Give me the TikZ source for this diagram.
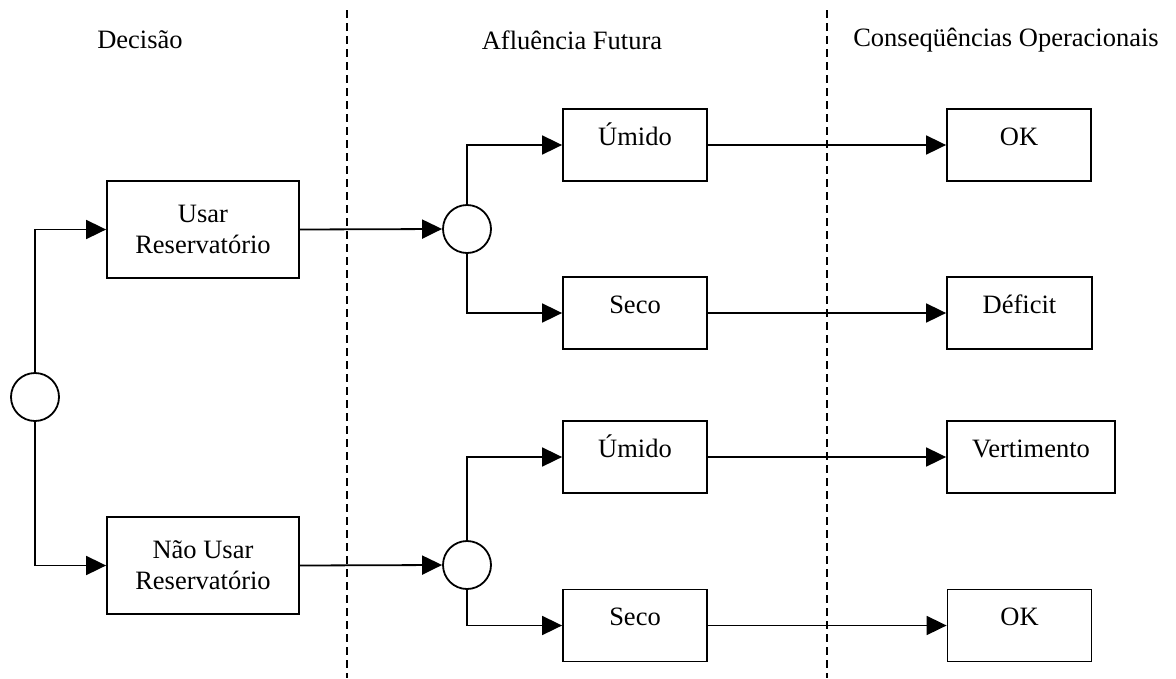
\documentclass[tikz,border=0pt]{standalone}
\usepackage{fontspec}
\setmainfont{Liberation Serif}
\usetikzlibrary{arrows.meta,calc}
\begin{document}
\begin{tikzpicture}[x=1pt,y=-1pt,
  every node/.style={font=\fontsize{26.5}{31}\selectfont, inner sep=0pt},
  box/.style={draw, line width=1.8pt, minimum height=72pt, text height=19pt, text depth=19pt},
  bigbox/.style={draw, line width=1.8pt, minimum width=192pt, minimum height=97pt, align=center},
  chance/.style={draw, circle, line width=1.8pt, minimum size=48pt},
  conn/.style={line width=1.8pt, -{Triangle[length=20pt,width=19pt]}},
  sep/.style={line width=1.6pt, dash pattern=on 8pt off 5pt}]
\useasboundingbox (0,0) rectangle (1176,678);
% separators
\coordinate (s1t) at (347,10); \coordinate (s1b) at (347,678);
\coordinate (s2t) at (827,10); \coordinate (s2b) at (827,678);
\draw[sep] (s1t) -- (s1b);
\draw[sep] (s2t) -- (s2b);
% headers
\node (h1) at (140,40) {Decisão};
\node (h2) at (572,40) {Afluência Futura};
\node (h3) at (1006,40) {Conseqüências Operacionais};
% nodes
\node[chance] (c0) at (35,397) {};
\node[bigbox] (usar) at (203,229.5) {Usar\\Reservatório};
\node[bigbox] (nao) at (203,565.5) {Não Usar\\Reservatório};
\node[chance] (c1) at (467,229) {};
\node[chance] (c2) at (467,565) {};
\node[box, minimum width=144pt] (u1) at (635,145) {Úmido};
\node[box, minimum width=144pt] (s1) at (635,313) {Seco};
\node[box, minimum width=144pt] (u2) at (635,457) {Úmido};
\node[box, minimum width=144pt] (s2) at (635,625.5) {Seco};
\node[box, minimum width=144pt] (r1) at (1019,145) {OK};
\node[box, minimum width=145pt] (r2) at (1019.5,313) {Déficit};
\node[box, minimum width=168pt] (r3) at (1031,457) {Vertimento};
\node[box, minimum width=144pt] (r4) at (1019.5,625.5) {OK};
% connectors
\draw[conn] (c0.north) |- (usar.west);
\draw[conn] (c0.south) |- (nao.west);
\draw[conn] (usar.east) -- (c1.west);
\draw[conn] (nao.east) -- (c2.west);
\draw[conn] (c1.north) |- (u1.west);
\draw[conn] (c1.south) |- (s1.west);
\draw[conn] (c2.north) |- (u2.west);
\draw[conn] (c2.south) |- (s2.west);
\draw[conn] (u1.east) -- (r1.west);
\draw[conn] (s1.east) -- (r2.west);
\draw[conn] (u2.east) -- (r3.west);
\draw[conn] (s2.east) -- (r4.west);
\end{tikzpicture}
\end{document}
